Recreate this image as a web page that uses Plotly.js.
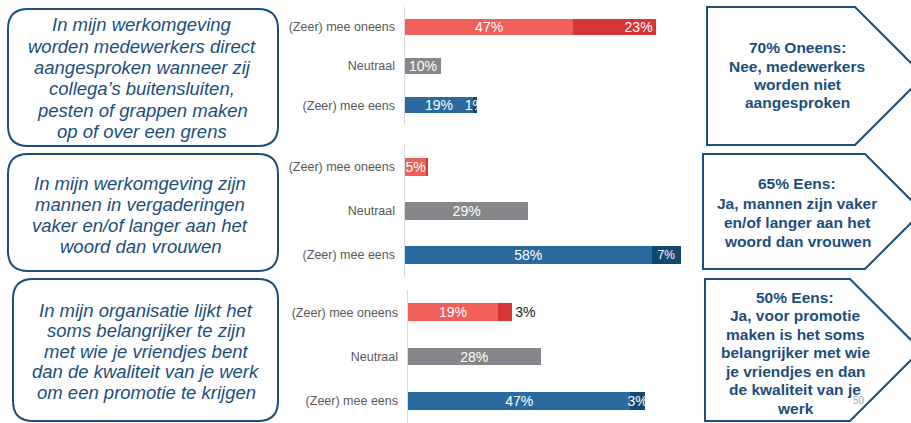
<!DOCTYPE html>
<html>
<head>
<meta charset="utf-8">
<script src="https://cdn.plot.ly/plotly-3.0.1.min.js"></script>
<style>html,body{margin:0;padding:0;background:#fff;}#chart{width:911px;height:423px;}</style>
</head>
<body>
<div id="chart"></div>
<script>
// ---- data ----
const categories = ['(Zeer) mee oneens', 'Neutraal', '(Zeer) mee eens'];

const p1Main = [47, 10, 19];
const p1Extra = [23, 0, 1];
const p1MainLabels = ['47%', '10%', '19%'];
const p1ExtraLabels = ['23%', '', '1%'];

const p2Main = [5, 29, 58];
const p2Extra = [0.4, 0, 7];
const p2MainLabels = ['5%', '29%', '58%'];
const p2ExtraLabels = ['', '', '7%'];

const p3Main = [19, 28, 47];
const p3Extra = [3, 0, 3];
const p3MainLabels = ['19%', '28%', '47%'];
const p3ExtraLabels = ['3%', '', '3%'];

const statement1 = ['In mijn werkomgeving', 'worden medewerkers direct', 'aangesproken wanneer zij', 'collega’s buitensluiten,', 'pesten of grappen maken', 'op of over een grens'];
const statement2 = ['In mijn werkomgeving zijn', 'mannen in vergaderingen', 'vaker en/of langer aan het', 'woord dan vrouwen'];
const statement3 = ['In mijn organisatie lijkt het', 'soms belangrijker te zijn', 'met wie je vriendjes bent', 'dan de kwaliteit van je werk', 'om een promotie te krijgen'];

const conclusion1 = ['70% Oneens:', 'Nee, medewerkers', 'worden niet', 'aangesproken'];
const conclusion2 = ['65% Eens:', 'Ja, mannen zijn vaker', 'en/of langer aan het', 'woord dan vrouwen'];
const conclusion3 = ['50% Eens:', 'Ja, voor promotie', 'maken is het soms', 'belangrijker met wie', 'je vriendjes en dan', 'de kwaliteit van je', 'werk'];

const pageNumber = '50';

// ---- styles ----
const W = 911, H = 423;
const mainColors = ['#f0605b', '#87878b', '#2a6a9e'];
const extraColors = ['#d83535', '#87878b', '#13486f'];
const navy = '#1d4e7a';
const FONT = 'Liberation Sans, Arial, sans-serif';

const panels = [
  {main: p1Main, extra: p1Extra, ml: p1MainLabels, el: p1ExtraLabels, xa: 'x', ya: 'y',
   extraAnchor: ['end', 'middle', 'middle'], extraPos: ['inside', 'inside', 'inside'], extraSize: [14, 14, 14], width: 0.41},
  {main: p2Main, extra: p2Extra, ml: p2MainLabels, el: p2ExtraLabels, xa: 'x2', ya: 'y2',
   extraAnchor: ['middle', 'middle', 'middle'], extraPos: ['inside', 'inside', 'inside'], extraSize: [14, 14, 12], width: 0.4},
  {main: p3Main, extra: p3Extra, ml: p3MainLabels, el: p3ExtraLabels, xa: 'x3', ya: 'y3',
   extraAnchor: ['middle', 'middle', 'middle'], extraPos: ['outside', 'inside', 'inside'], extraSize: [14, 14, 14], width: 0.4}
];

const traces = [];
panels.forEach(p => {
  categories.forEach((c, i) => {
    traces.push({
      type: 'bar', orientation: 'h', xaxis: p.xa, yaxis: p.ya,
      y: [c], x: [p.main[i]], text: [p.ml[i]],
      marker: {color: mainColors[i], line: {width: 0}},
      width: p.width,
      textposition: 'inside', insidetextanchor: 'middle', constraintext: 'none', textangle: 0,
      textfont: {family: FONT, size: 14, color: '#ffffff'},
      cliponaxis: false, hoverinfo: 'skip'
    });
    traces.push({
      type: 'bar', orientation: 'h', xaxis: p.xa, yaxis: p.ya,
      y: [c], x: [p.extra[i]], text: [p.el[i]],
      marker: {color: extraColors[i], line: {width: 0}},
      width: p.width,
      textposition: p.extraPos[i], insidetextanchor: p.extraAnchor[i], constraintext: 'none', textangle: 0,
      textfont: {family: FONT, size: p.extraSize[i], color: '#ffffff'},
      outsidetextfont: {family: FONT, size: 14, color: '#1a1a1a'},
      cliponaxis: false, hoverinfo: 'skip'
    });
  });
});

function xAx(x0, x1, maxv) {
  return {domain: [x0 / W, x1 / W], range: [0, maxv], visible: false, showgrid: false, zeroline: false, fixedrange: true};
}
function yAx(top, bottom, anchor) {
  return {
    domain: [Math.max(0, 1 - bottom / H), 1 - top / H], type: 'category', range: [2.5, -0.5], anchor: anchor,
    showline: true, linecolor: '#d9d9d9', linewidth: 1.5, showgrid: false, zeroline: false,
    ticks: 'outside', ticklen: 6, tickcolor: 'rgba(0,0,0,0)',
    tickfont: {family: FONT, size: 12.5, color: '#595959'}, fixedrange: true
  };
}

const X = x => (x / W).toFixed(5);
const Y = y => (1 - y / H).toFixed(5);
function roundRect(x0, y0, x1, y1, r) {
  return `M${X(x0 + r)},${Y(y0)} L${X(x1 - r)},${Y(y0)} Q${X(x1)},${Y(y0)} ${X(x1)},${Y(y0 + r)} ` +
    `L${X(x1)},${Y(y1 - r)} Q${X(x1)},${Y(y1)} ${X(x1 - r)},${Y(y1)} L${X(x0 + r)},${Y(y1)} ` +
    `Q${X(x0)},${Y(y1)} ${X(x0)},${Y(y1 - r)} L${X(x0)},${Y(y0 + r)} Q${X(x0)},${Y(y0)} ${X(x0 + r)},${Y(y0)} Z`;
}
function pentagon(x0, y0, x1, y1) {
  const tip = x1 + (y1 - y0) / 2, mid = (y0 + y1) / 2;
  return `M${X(x0)},${Y(y0)} L${X(x1)},${Y(y0)} L${X(tip)},${Y(mid)} L${X(x1)},${Y(y1)} L${X(x0)},${Y(y1)} Z`;
}

const shapes = [
  {type: 'path', path: roundRect(8, 9, 278, 146, 20)},
  {type: 'path', path: roundRect(8, 154, 278, 271, 20)},
  {type: 'path', path: roundRect(13, 279, 278, 421, 20)},
  {type: 'path', path: pentagon(707, 7, 855, 145)},
  {type: 'path', path: pentagon(703, 154, 865, 269)},
  {type: 'path', path: pentagon(705, 279, 850, 421)}
].map(s => Object.assign(s, {xref: 'paper', yref: 'paper', line: {color: navy, width: 2}, fillcolor: 'rgba(0,0,0,0)'}));

const annotations = [];
function addLines(lines, cx, firstY, step, font) {
  lines.forEach((t, i) => {
    annotations.push({
      xref: 'paper', yref: 'paper', x: cx / W, y: 1 - (firstY + i * step) / H,
      xanchor: 'center', yanchor: 'middle', showarrow: false, text: t, font: font
    });
  });
}
const leftFont = {family: FONT, size: 18.5, color: navy, style: 'italic'};
const rightFont = {family: FONT, size: 15.5, color: navy, weight: 'bold'};
addLines(statement1, 142, 25, 21.3, leftFont);
addLines(statement2, 140, 183, 21.3, leftFont);
addLines(statement3, 146, 310, 20.5, leftFont);
addLines(conclusion1, 797, 48, 18, rightFont);
addLines(conclusion2, 797, 184, 19.3, rightFont);
addLines(conclusion3, 795, 297, 18.5, rightFont);
annotations.push({xref: 'paper', yref: 'paper', x: 859 / W, y: 1 - 400 / H, xanchor: 'center', yanchor: 'middle',
  showarrow: false, text: pageNumber, font: {family: FONT, size: 10, color: '#a6a6a6'}});

const layout = {
  width: W, height: H, margin: {l: 0, r: 0, t: 0, b: 0},
  paper_bgcolor: '#ffffff', plot_bgcolor: 'rgba(0,0,0,0)',
  barmode: 'stack', showlegend: false, hovermode: false,
  font: {family: FONT},
  xaxis: xAx(405, 700, 82.4),
  yaxis: yAx(7, 125, 'x'),
  xaxis2: xAx(405, 700, 69.4),
  yaxis2: yAx(145, 277, 'x2'),
  xaxis3: xAx(408, 700, 61.7),
  yaxis3: yAx(290, 423, 'x3'),
  shapes: shapes,
  annotations: annotations
};

Plotly.newPlot('chart', traces, layout, {displayModeBar: false, staticPlot: true});
</script>
</body>
</html>
